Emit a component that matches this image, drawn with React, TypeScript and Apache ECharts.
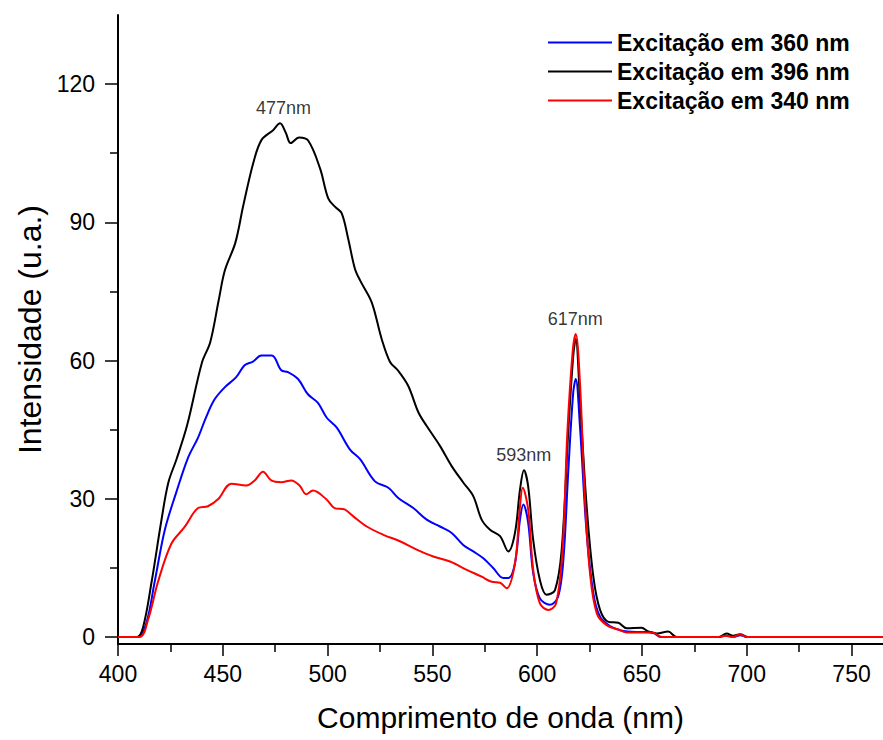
import React, { useEffect, useRef } from "react";
import * as echarts from "echarts";

const FONT = 'Arial, "Liberation Sans", sans-serif';

// Wavelength ticks (nm) and intensity ticks (u.a.)
const xMajorTicks = [400, 450, 500, 550, 600, 650, 700, 750];
const xMinorTicks = [425, 475, 525, 575, 625, 675, 725];
const yMajorTicks = [0, 30, 60, 90, 120];
const yMinorTicks = [15, 45, 75, 105];

const seriesNames = ["Excitação em 360 nm", "Excitação em 396 nm", "Excitação em 340 nm"];
const seriesColors = ["#0000ff", "#000000", "#ff0000"];

// Excitação em 360 nm (blue)
const blueX = [400, 409.5, 413.5, 417.5, 422.3, 427.8, 433.4, 438.2, 442.1, 446.1, 450.9, 456.4, 460.4, 464.4, 468.4, 473.4, 477.9, 481.1, 485.9, 490.6, 495.4, 499.6, 504.3, 510.7, 515.5, 522.6, 529, 533.7, 540.9, 547.3, 553.6, 559.2, 564.7, 569.5, 574.3, 579, 583.8, 586.2, 589.4, 591.8, 593.4, 595.7, 598.1, 601.3, 606.1, 610, 612.5, 614.8, 617.2, 618.4, 620.4, 623.6, 626.8, 630, 634.7, 639.5, 643, 650, 655, 659, 687, 690, 693.5, 697, 700, 765];
const blueY = [0, 0, 3, 12, 23.2, 31.4, 38.9, 43.3, 47.8, 51.6, 54.2, 56.4, 59, 59.8, 61.1, 61.1, 57.9, 57.5, 56, 52.7, 50.8, 47.6, 45.5, 40.7, 38.6, 33.8, 32.4, 30.2, 28, 25.5, 24, 22.6, 20, 18.6, 17.1, 15, 12.8, 12.8, 16, 25.5, 28.8, 24.8, 13.9, 8.4, 7, 8.8, 16.8, 35.7, 53.1, 56, 45.8, 22.6, 9.5, 4.4, 2.4, 1.5, 1.2, 1.1, 1, 0, 0, 0.3, 0, 0.4, 0, 0];

// Excitação em 396 nm (black)
const blackX = [400, 409, 412, 416, 420.7, 424, 428, 433, 440, 444, 448, 451, 456, 459.8, 464.6, 468.5, 474, 477.3, 480, 482.4, 486.4, 490.8, 496.4, 500.3, 503.5, 506.7, 509.8, 513, 515.5, 521, 525.8, 529.8, 533.7, 538.5, 543.3, 547.3, 553.6, 559.2, 564.8, 569.5, 573.5, 577.5, 582.3, 586.2, 589.4, 591.8, 593.7, 595.7, 598.1, 601.3, 604.5, 608.5, 611.7, 614.8, 617.2, 618.4, 620.4, 623.6, 626.8, 630, 634, 638.7, 642.7, 649.8, 653, 657, 662.5, 666.5, 686.4, 690.4, 693.5, 696.8, 700.7, 765];
const blackY = [0, 0, 2.2, 11.9, 25.3, 33.5, 38.7, 46, 59.5, 64, 73, 79.6, 85.6, 93.7, 103, 107.9, 110, 111.5, 109.5, 107.2, 108.4, 107.7, 101.7, 95.2, 93.4, 92, 86.5, 80, 77.4, 72.7, 64.7, 59.7, 57.8, 54.5, 48.8, 45.8, 41.5, 37.1, 33.5, 30.6, 25.5, 23.3, 21.9, 18.6, 22.6, 32, 36.2, 32.7, 21.1, 12.4, 9.2, 10.2, 19, 44.4, 61, 64.7, 51.6, 28.4, 13.1, 5.9, 3.3, 3.1, 1.9, 2, 1.2, 0.8, 1.2, 0, 0, 0.8, 0.3, 0.6, 0, 0];

// Excitação em 340 nm (red)
const redX = [400, 410.3, 414.3, 419.1, 425.4, 431.8, 438.2, 442.9, 447.7, 454.1, 461.2, 465.2, 469.2, 473.1, 477.9, 482.7, 486.6, 489.8, 493, 499.4, 503.3, 508.1, 512.3, 518.7, 526.6, 534.5, 542.5, 550.4, 558.4, 566.4, 573.5, 578.3, 582.3, 585.4, 589.4, 591.8, 593.1, 595.7, 598.1, 601.3, 605.3, 609, 612.1, 614.4, 616.9, 618.4, 620.4, 622.8, 625.2, 628.4, 633.1, 639.5, 642.7, 655, 659.5, 686.4, 689.6, 693.5, 696.8, 700, 765];
const redY = [0, 0, 3.7, 12, 20.2, 23.9, 28, 28.4, 29.9, 33.3, 32.9, 34, 35.9, 34, 33.6, 34, 32.9, 31, 31.8, 29.9, 28, 27.7, 26.2, 24, 22.2, 20.8, 19, 17.5, 16.4, 14.6, 13.1, 12, 11.8, 10.6, 16, 28.4, 32.4, 27.7, 14.6, 7.3, 5.9, 7.3, 19, 44.4, 61.8, 65.8, 55.3, 29.8, 13.9, 5.2, 2.6, 1.5, 1, 1, 0, 0, 0.3, 0, 0.6, 0, 0];

// Peak annotations
const peakLabels = ["477nm", "593nm", "617nm"];
const peakX = [479, 593.6, 618.2];
const peakY = [111.5, 36.2, 65.8];

const zip = (xs: number[], ys: number[]) => xs.map((x, i) => [x, ys[i]]);

export default function App() {
  const ref = useRef<HTMLDivElement>(null);

  useEffect(() => {
    if (!ref.current) return;
    const chart = echarts.init(ref.current, null, { renderer: "svg" });

    const yMin = -1.5;
    const yMax = 135;
    const xMin = 400;
    const xMax = 765;

    const lineData = [zip(blueX, blueY), zip(blackX, blackY), zip(redX, redY)];

    const option: any = {
      animation: false,
      backgroundColor: "#ffffff",
      textStyle: { fontFamily: FONT },
      grid: { left: 118, right: 0, top: 15, bottom: 96, containLabel: false },
      legend: {
        data: seriesNames,
        orient: "vertical",
        left: 543,
        top: 26,
        itemWidth: 64,
        itemHeight: 2,
        itemGap: 6,
        icon: "rect",
        textStyle: { fontFamily: FONT, fontSize: 23, fontWeight: "bold", color: "#000", lineHeight: 22 },
      },
      xAxis: [
        {
          type: "value",
          min: xMin,
          max: xMax,
          position: "bottom",
          name: "Comprimento de onda (nm)",
          nameLocation: "middle",
          nameGap: 58,
          nameTextStyle: { fontFamily: FONT, fontSize: 30, color: "#000" },
          axisLine: { show: true, onZero: false, lineStyle: { color: "#000", width: 2 } },
          axisTick: { show: true, customValues: xMajorTicks, length: 12, lineStyle: { color: "#000", width: 1.5 } },
          axisLabel: { customValues: xMajorTicks, margin: 18, fontSize: 23, color: "#000", fontFamily: FONT },
          splitLine: { show: false },
        },
        {
          type: "value",
          min: xMin,
          max: xMax,
          position: "bottom",
          axisLine: { show: false, onZero: false },
          axisTick: { show: true, customValues: xMinorTicks, length: 8, lineStyle: { color: "#000", width: 1.5 } },
          axisLabel: { show: false },
          splitLine: { show: false },
        },
      ],
      yAxis: [
        {
          type: "value",
          min: yMin,
          max: yMax,
          position: "left",
          name: "Intensidade (u.a.)",
          nameLocation: "middle",
          nameGap: 72,
          nameTextStyle: { fontFamily: FONT, fontSize: 32, color: "#000" },
          axisLine: { show: true, onZero: false, lineStyle: { color: "#000", width: 2 } },
          axisTick: { show: true, customValues: yMajorTicks, length: 13, lineStyle: { color: "#000", width: 1.5 } },
          axisLabel: { customValues: yMajorTicks, margin: 23, fontSize: 23, color: "#000", fontFamily: FONT },
          splitLine: { show: false },
        },
        {
          type: "value",
          min: yMin,
          max: yMax,
          position: "left",
          axisLine: { show: false, onZero: false },
          axisTick: { show: true, customValues: yMinorTicks, length: 8, lineStyle: { color: "#000", width: 1.5 } },
          axisLabel: { show: false },
          splitLine: { show: false },
        },
      ],
      series: [
        ...seriesNames.map((name, i) => ({
          name,
          type: "line",
          xAxisIndex: 0,
          yAxisIndex: 0,
          data: lineData[i],
          symbol: "none",
          smooth: 0.35,
          color: seriesColors[i],
          lineStyle: { width: 2, color: seriesColors[i] },
          z: 2 + i,
        })),
        {
          name: "peaks",
          type: "scatter",
          xAxisIndex: 0,
          yAxisIndex: 0,
          symbolSize: 0,
          silent: true,
          data: peakLabels.map((t, i) => ({ value: [peakX[i], peakY[i]], name: t })),
          label: {
            show: true,
            position: "top",
            distance: 6,
            formatter: (p: any) => p.name,
            fontFamily: FONT,
            fontSize: 18,
            color: "#000",
          },
          z: 10,
        },
      ],
    };

    chart.setOption(option);
    return () => {
      chart.dispose();
    };
  }, []);

  return (
    <div
      ref={ref}
      style={{ position: "fixed", left: 0, top: 0, width: 883, height: 740, background: "#fff" }}
    />
  );
}
